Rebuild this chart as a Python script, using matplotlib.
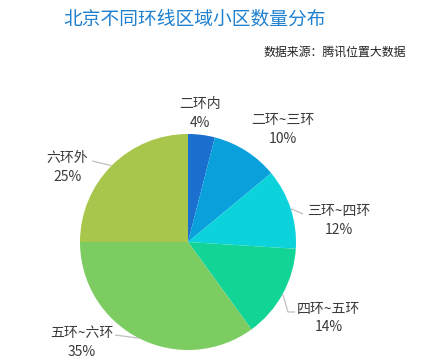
#!/usr/bin/env python3
import matplotlib
matplotlib.use('Agg')
import matplotlib.pyplot as plt
import numpy as np

plt.rcParams['font.family'] = ['Noto Sans CJK SC', 'DejaVu Sans']

# data
categories = ['二环内', '二环~三环', '三环~四环', '四环~五环', '五环~六环', '六环外']
shares = [4, 10, 12, 14, 35, 25]
colors = ['#1a6fcf', '#0aa0dc', '#0cd2dc', '#12d496', '#7ccc62', '#a8c64b']

# label layout, in units of the pie radius: (x, y, ha, leader points)
label_layout = [
    (0.11, 1.19, 'center', None),
    (0.88, 1.04, 'center', None),
    (1.10, 0.20, 'left', [(1.065, 0.26)]),
    (1.01, -0.70, 'left', [(0.926, -0.648), (0.99, -0.648)]),
    (-0.694, -0.93, 'right', [(-0.676, -0.861)]),
    (-0.926, 0.69, 'right', [(-0.889, 0.75)]),
]

W, H = 429, 364
cx, cy, R = 188, 242, 108  # pie centre and radius in pixels

fig = plt.figure(figsize=(W / 100, H / 100), dpi=100)
ax = fig.add_axes([0, 0, 1, 1])

wedges, _ = ax.pie(shares, colors=colors, startangle=90, counterclock=False,
                   radius=1, wedgeprops=dict(linewidth=0))

ax.set_xlim(-cx / R, (W - cx) / R)
ax.set_ylim(-(H - cy) / R, cy / R)
ax.set_aspect('auto')
ax.axis('off')

for w, name, val, (lx, ly, ha, pts) in zip(wedges, categories, shares, label_layout):
    mid = np.deg2rad((w.theta1 + w.theta2) / 2)
    if pts:
        xs = [np.cos(mid)] + [p[0] for p in pts]
        ys = [np.sin(mid)] + [p[1] for p in pts]
        ax.plot(xs, ys, color='#c0c0c0', lw=0.9, solid_capstyle='butt')
    ax.text(lx, ly, f'{name}\n{val}%', ha=ha, va='center', multialignment='center',
            fontsize=10, color='#3a3a3a', linespacing=1.4)

fig.text(63 / W, 1 - 19 / H, '北京不同环线区域小区数量分布', fontsize=13.5,
         color='#1e80cf', ha='left', va='center')
fig.text(406 / W, 1 - 52 / H, '数据来源：腾讯位置大数据', fontsize=8.6,
         color='#222222', ha='right', va='center')

fig.savefig('out.png', dpi=100)
